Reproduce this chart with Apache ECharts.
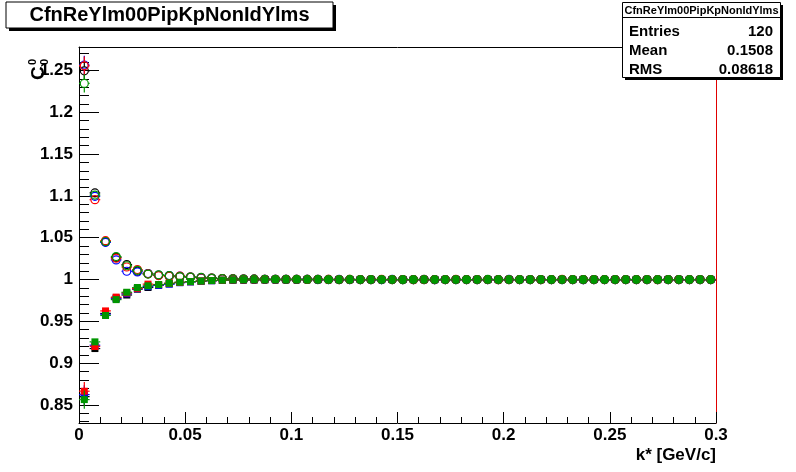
<!DOCTYPE html>
<html>
<head>
<meta charset="utf-8">
<script src="https://cdn.jsdelivr.net/npm/echarts@6/dist/echarts.min.js"></script>
<style>
html,body{margin:0;padding:0;background:#fff;}
#chart{width:796px;height:472px;}
</style>
</head>
<body>
<div id="chart"></div>
<script>
// ---------------- data ----------------
const kstar = [
 0.0025,0.0075,0.0125,0.0175,0.0225,0.0275,0.0325,0.0375,0.0425,0.0475,
 0.0525,0.0575,0.0625,0.0675,0.0725,0.0775,0.0825,0.0875,0.0925,0.0975,
 0.1025,0.1075,0.1125,0.1175,0.1225,0.1275,0.1325,0.1375,0.1425,0.1475,
 0.1525,0.1575,0.1625,0.1675,0.1725,0.1775,0.1825,0.1875,0.1925,0.1975,
 0.2025,0.2075,0.2125,0.2175,0.2225,0.2275,0.2325,0.2375,0.2425,0.2475,
 0.2525,0.2575,0.2625,0.2675,0.2725,0.2775,0.2825,0.2875,0.2925,0.2975];
const binHalfWidth = 0.0025;

const redCircles = [
 1.2555,1.0955,1.0465,1.0255,1.0150,1.0120,1.0068,1.0048,1.0040,1.0042,
 1.0030,1.0022,1.0016,1.0011,1.0008,1.0006,1.0004,1.0003,1.0003,1.0002,
 1.0002,1.0001,1.0001,1.0001,1.0000,1.0001,1.0000,1.0000,1.0001,1.0000,
 1.0000,0.9999,1.0000,1.0000,1.0000,1.0001,1.0000,1.0000,1.0000,0.9999,
 1.0000,1.0000,1.0000,1.0000,1.0000,1.0001,1.0000,1.0000,1.0000,1.0000,
 1.0000,1.0000,1.0000,1.0000,0.9999,1.0000,1.0000,1.0000,1.0000,1.0000];
const blueCircles = [
 1.2565,1.0995,1.0445,1.0235,1.0099,1.0090,1.0072,1.0052,1.0048,1.0040,
 1.0030,1.0024,1.0018,1.0012,1.0008,1.0005,1.0004,1.0003,1.0002,1.0002,
 1.0001,1.0001,1.0001,1.0000,1.0001,1.0000,1.0000,1.0000,1.0000,1.0001,
 1.0000,1.0000,1.0000,0.9999,1.0000,1.0000,1.0000,1.0000,1.0000,1.0000,
 1.0001,1.0000,1.0000,1.0000,1.0000,1.0000,1.0000,0.9999,1.0000,1.0000,
 1.0000,1.0000,1.0000,1.0000,1.0000,1.0000,1.0000,1.0000,1.0000,1.0000];
const blackCircles = [
 1.2495,1.1035,1.0450,1.0265,1.0179,1.0100,1.0070,1.0050,1.0040,1.0035,
 1.0028,1.0021,1.0015,1.0010,1.0007,1.0005,1.0004,1.0003,1.0002,1.0002,
 1.0001,1.0001,1.0000,1.0001,1.0000,1.0000,1.0000,1.0000,1.0000,1.0000,
 1.0000,1.0000,1.0001,1.0000,1.0000,1.0000,1.0000,1.0000,1.0000,1.0000,
 1.0000,1.0000,1.0000,1.0000,1.0000,1.0000,1.0000,1.0000,1.0000,1.0000,
 1.0000,1.0000,1.0000,1.0000,1.0000,1.0000,1.0000,1.0000,1.0000,1.0000];
const greenCircles = [
 1.2345,1.1010,1.0455,1.0275,1.0165,1.0110,1.0065,1.0056,1.0048,1.0036,
 1.0030,1.0025,1.0018,1.0012,1.0008,1.0005,1.0004,1.0003,1.0003,1.0002,
 1.0002,1.0001,1.0001,1.0000,1.0000,1.0001,1.0000,1.0000,1.0000,1.0000,
 0.9999,1.0000,1.0000,1.0000,1.0000,1.0000,1.0000,1.0000,1.0001,1.0000,
 1.0000,1.0000,1.0000,1.0000,1.0000,1.0000,1.0000,1.0000,1.0000,1.0000,
 1.0000,1.0000,1.0000,1.0000,1.0000,1.0000,1.0000,1.0000,1.0000,1.0000];

const redSquares = [
 0.8665,0.9200,0.9625,0.9790,0.9840,0.9895,0.9945,0.9940,0.9955,0.9966,
 0.9975,0.9982,0.9988,0.9992,0.9995,0.9996,0.9997,0.9998,0.9998,0.9999,
 0.9999,0.9999,1.0000,0.9999,1.0000,1.0000,1.0000,1.0000,1.0000,1.0000,
 1.0000,1.0000,0.9999,1.0000,1.0000,1.0000,1.0000,1.0000,1.0000,1.0000,
 1.0000,1.0000,1.0000,0.9999,1.0000,1.0000,1.0000,1.0000,1.0000,1.0000,
 1.0000,1.0000,1.0000,1.0000,1.0000,1.0000,1.0000,1.0000,1.0000,1.0000];
const blueSquares = [
 0.8625,0.9215,0.9585,0.9770,0.9830,0.9890,0.9915,0.9930,0.9945,0.9962,
 0.9972,0.9980,0.9986,0.9991,0.9994,0.9996,0.9997,0.9998,0.9998,0.9999,
 0.9999,1.0000,0.9999,1.0000,1.0000,1.0000,1.0000,1.0000,0.9999,1.0000,
 1.0000,1.0000,1.0000,1.0000,1.0000,1.0000,1.0000,1.0000,1.0000,1.0000,
 1.0000,1.0000,1.0000,1.0000,1.0000,1.0000,1.0000,1.0000,1.0000,1.0000,
 1.0000,1.0000,1.0000,1.0000,1.0000,1.0000,1.0000,1.0000,1.0000,1.0000];
const blackSquares = [
 0.8600,0.9175,0.9595,0.9780,0.9815,0.9885,0.9905,0.9932,0.9949,0.9965,
 0.9974,0.9981,0.9987,0.9991,0.9994,0.9996,0.9997,0.9998,0.9999,0.9999,
 0.9999,1.0000,1.0000,1.0000,0.9999,1.0000,1.0000,1.0000,1.0000,1.0000,
 1.0000,1.0000,1.0000,1.0000,1.0000,1.0000,1.0000,1.0000,1.0000,1.0000,
 1.0000,1.0000,1.0000,1.0000,1.0000,1.0000,1.0000,1.0000,1.0000,1.0000,
 1.0000,1.0000,1.0000,1.0000,1.0000,1.0000,1.0000,1.0000,1.0000,1.0000];
const greenSquares = [
 0.8565,0.9255,0.9570,0.9760,0.9848,0.9905,0.9925,0.9940,0.9955,0.9968,
 0.9976,0.9982,0.9988,0.9992,0.9995,0.9997,0.9998,0.9998,0.9999,0.9999,
 1.0000,0.9999,1.0000,1.0000,1.0000,1.0000,1.0000,1.0000,1.0000,1.0000,
 1.0000,1.0000,1.0000,1.0000,1.0000,1.0000,1.0000,1.0000,1.0000,1.0000,
 1.0000,1.0000,1.0000,1.0000,1.0000,1.0000,1.0000,1.0000,1.0000,1.0000,
 1.0000,1.0000,1.0000,1.0000,1.0000,1.0000,1.0000,1.0000,1.0000,1.0000];

const errs = [
 0.0110,0.0040,0.0020,0.0012,0.0009,0.0007,0.0005,0.0004,0.0004,0.0003,
 0.0003,0.0003,0.0002,0.0002,0.0002,0.0002,0.0002,0.0002,0.0002,0.0002,
 0.0002,0.0002,0.0002,0.0002,0.0002,0.0002,0.0002,0.0002,0.0002,0.0002,
 0.0002,0.0002,0.0002,0.0002,0.0002,0.0002,0.0002,0.0002,0.0002,0.0002,
 0.0002,0.0002,0.0002,0.0002,0.0002,0.0002,0.0002,0.0002,0.0002,0.0002,
 0.0002,0.0002,0.0002,0.0002,0.0002,0.0002,0.0002,0.0002,0.0002,0.0002];

const yMajorTicks = [0.85,0.9,0.95,1,1.05,1.1,1.15,1.2,1.25];
const yMinorTicks = [0.83,0.84,0.86,0.87,0.88,0.89,0.91,0.92,0.93,0.94,0.96,0.97,0.98,0.99,
 1.01,1.02,1.03,1.04,1.06,1.07,1.08,1.09,1.11,1.12,1.13,1.14,1.16,1.17,1.18,1.19,1.21,1.22,1.23,1.24,1.26,1.27];

const histName = 'CfnReYlm00PipKpNonIdYlms';
const statEntries = '120', statMean = '0.1508', statRMS = '0.08618';

// ---------------- chart ----------------
const FONT = '"Liberation Sans", Arial, Helvetica, sans-serif';
const YMIN = 0.8285, YMAX = 1.278;
const RED = '#ff0000', BLUE = '#0000ff', BLACK = '#000000', GREEN = '#009600';

function fmt(v){ return String(Number(v.toFixed(3))); }

function makeSeries(name, vals, color, marker){
  const data = kstar.map((k,i)=>[k, vals[i], errs[i]]);
  return {
    name, type:'custom', data, xAxisIndex:0, yAxisIndex:0, clip:true,
    renderItem(params, api){
      const x = api.value(0), y = api.value(1), e = api.value(2);
      const c = api.coord([x,y]);
      const xl = api.coord([x-binHalfWidth,y])[0];
      const xr = api.coord([x+binHalfWidth,y])[0];
      const yt = api.coord([x,y+e])[1];
      const yb = api.coord([x,y-e])[1];
      const r = marker==='circle' ? 4 : 3.5;
      const st = {stroke:color, lineWidth:1.2, fill:null};
      const ch = [];
      ch.push({type:'line', shape:{x1:xl,y1:c[1],x2:c[0]-r,y2:c[1]}, style:st});
      ch.push({type:'line', shape:{x1:c[0]+r,y1:c[1],x2:xr,y2:c[1]}, style:st});
      if (c[1]-r > yt) ch.push({type:'line', shape:{x1:c[0],y1:yt,x2:c[0],y2:c[1]-r}, style:st});
      if (yb > c[1]+r) ch.push({type:'line', shape:{x1:c[0],y1:c[1]+r,x2:c[0],y2:yb}, style:st});
      if (marker==='circle'){
        ch.push({type:'circle', shape:{cx:c[0],cy:c[1],r:r}, style:{stroke:color,lineWidth:1.2,fill:null}});
      } else {
        ch.push({type:'rect', shape:{x:c[0]-r,y:c[1]-r,width:2*r,height:2*r}, style:{fill:color,stroke:null}});
      }
      return {type:'group', children:ch};
    }
  };
}

const chart = echarts.init(document.getElementById('chart'), null, {renderer:'canvas'});
const axisLbl = {fontFamily:FONT, fontWeight:'bold', fontSize:17, color:'#000'};

chart.setOption({
  animation:false,
  backgroundColor:'#fff',
  grid:{left:79, top:47, right:80, bottom:49, containLabel:false},
  xAxis:[
    {type:'value', min:0, max:0.3, interval:0.05, position:'bottom',
     axisLine:{show:true, onZero:false, lineStyle:{color:'#000', width:1}},
     axisTick:{show:true, inside:true, length:11, lineStyle:{color:'#000'}},
     minorTick:{show:true, splitNumber:5, length:6, lineStyle:{color:'#000'}},
     axisLabel:Object.assign({margin:4, formatter:fmt}, axisLbl),
     splitLine:{show:false}, minorSplitLine:{show:false}},
    {type:'value', min:0, max:0.3, position:'top',
     axisLine:{show:true, onZero:false, lineStyle:{color:'#000', width:1}},
     axisTick:{show:false}, axisLabel:{show:false}, splitLine:{show:false}}
  ],
  yAxis:[
    {type:'value', min:YMIN, max:YMAX, position:'left',
     axisLine:{show:true, onZero:false, lineStyle:{color:'#000', width:1}},
     axisTick:{show:true, inside:true, length:20, customValues:yMajorTicks, lineStyle:{color:'#000'}},
     axisLabel:Object.assign({margin:6, customValues:yMajorTicks, formatter:fmt}, axisLbl),
     splitLine:{show:false}},
    {type:'value', min:YMIN, max:YMAX, position:'left',
     axisLine:{show:false},
     axisTick:{show:true, inside:true, length:10, customValues:yMinorTicks, lineStyle:{color:'#000'}},
     axisLabel:{show:false}, splitLine:{show:false}},
    {type:'value', min:YMIN, max:YMAX, position:'right',
     axisLine:{show:true, onZero:false, lineStyle:{color:'#e00000', width:1}},
     axisTick:{show:false}, axisLabel:{show:false}, splitLine:{show:false}}
  ],
  series:[
    makeSeries('black o', blackCircles, BLACK, 'circle'),
    makeSeries('blue o', blueCircles, BLUE, 'circle'),
    makeSeries('red o', redCircles, RED, 'circle'),
    makeSeries('green o', greenCircles, GREEN, 'circle'),
    makeSeries('black s', blackSquares, BLACK, 'square'),
    makeSeries('blue s', blueSquares, BLUE, 'square'),
    makeSeries('red s', redSquares, RED, 'square'),
    makeSeries('green s', greenSquares, GREEN, 'square')
  ],
  graphic:[
    // title box
    {type:'rect', shape:{x:9, y:5, width:327, height:26}, style:{fill:'#000'}, z:10},
    {type:'rect', shape:{x:6, y:2, width:327, height:26}, style:{fill:'#fff', stroke:'#000', lineWidth:1}, z:11},
    {type:'text', x:169.5, y:15.5, style:{text:histName, fontFamily:FONT, fontWeight:'bold', fontSize:20, fill:'#000', align:'center', verticalAlign:'middle'}, z:12},
    // stats box
    {type:'rect', shape:{x:625, y:5, width:158, height:75}, style:{fill:'#000'}, z:10},
    {type:'rect', shape:{x:622.5, y:2.5, width:158, height:75}, style:{fill:'#fff', stroke:'#000', lineWidth:1}, z:11},
    {type:'line', shape:{x1:622.5, y1:17.5, x2:780.5, y2:17.5}, style:{stroke:'#000', lineWidth:1}, z:12},
    {type:'text', x:701.5, y:10.5, style:{text:histName, fontFamily:FONT, fontWeight:'bold', fontSize:11, fill:'#000', align:'center', verticalAlign:'middle'}, z:12},
    {type:'text', x:629, y:32, style:{text:'Entries', fontFamily:FONT, fontWeight:'bold', fontSize:15, fill:'#000', align:'left', verticalAlign:'middle'}, z:12},
    {type:'text', x:773, y:32, style:{text:statEntries, fontFamily:FONT, fontWeight:'bold', fontSize:15, fill:'#000', align:'right', verticalAlign:'middle'}, z:12},
    {type:'text', x:629, y:51, style:{text:'Mean', fontFamily:FONT, fontWeight:'bold', fontSize:15, fill:'#000', align:'left', verticalAlign:'middle'}, z:12},
    {type:'text', x:773, y:51, style:{text:statMean, fontFamily:FONT, fontWeight:'bold', fontSize:15, fill:'#000', align:'right', verticalAlign:'middle'}, z:12},
    {type:'text', x:629, y:70, style:{text:'RMS', fontFamily:FONT, fontWeight:'bold', fontSize:15, fill:'#000', align:'left', verticalAlign:'middle'}, z:12},
    {type:'text', x:773, y:70, style:{text:statRMS, fontFamily:FONT, fontWeight:'bold', fontSize:15, fill:'#000', align:'right', verticalAlign:'middle'}, z:12},
    // x axis title
    {type:'text', x:716, y:455, style:{text:'k* [GeV/c]', fontFamily:FONT, fontWeight:'bold', fontSize:17, fill:'#000', align:'right', verticalAlign:'middle'}, z:12},
    // y axis title C_0^0 (rotated)
    {type:'group', x:39, y:80, rotation:Math.PI/2, z:12, children:[
      {type:'text', x:0, y:0, style:{text:'C', fontFamily:FONT, fontWeight:'bold', fontSize:19, fill:'#000', align:'left', verticalAlign:'middle'}},
      {type:'text', x:15, y:-6, style:{text:'0', fontFamily:FONT, fontWeight:'bold', fontSize:11, fill:'#000', align:'left', verticalAlign:'middle'}},
      {type:'text', x:15, y:6, style:{text:'0', fontFamily:FONT, fontWeight:'bold', fontSize:11, fill:'#000', align:'left', verticalAlign:'middle'}}
    ]}
  ]
});
</script>
</body>
</html>
